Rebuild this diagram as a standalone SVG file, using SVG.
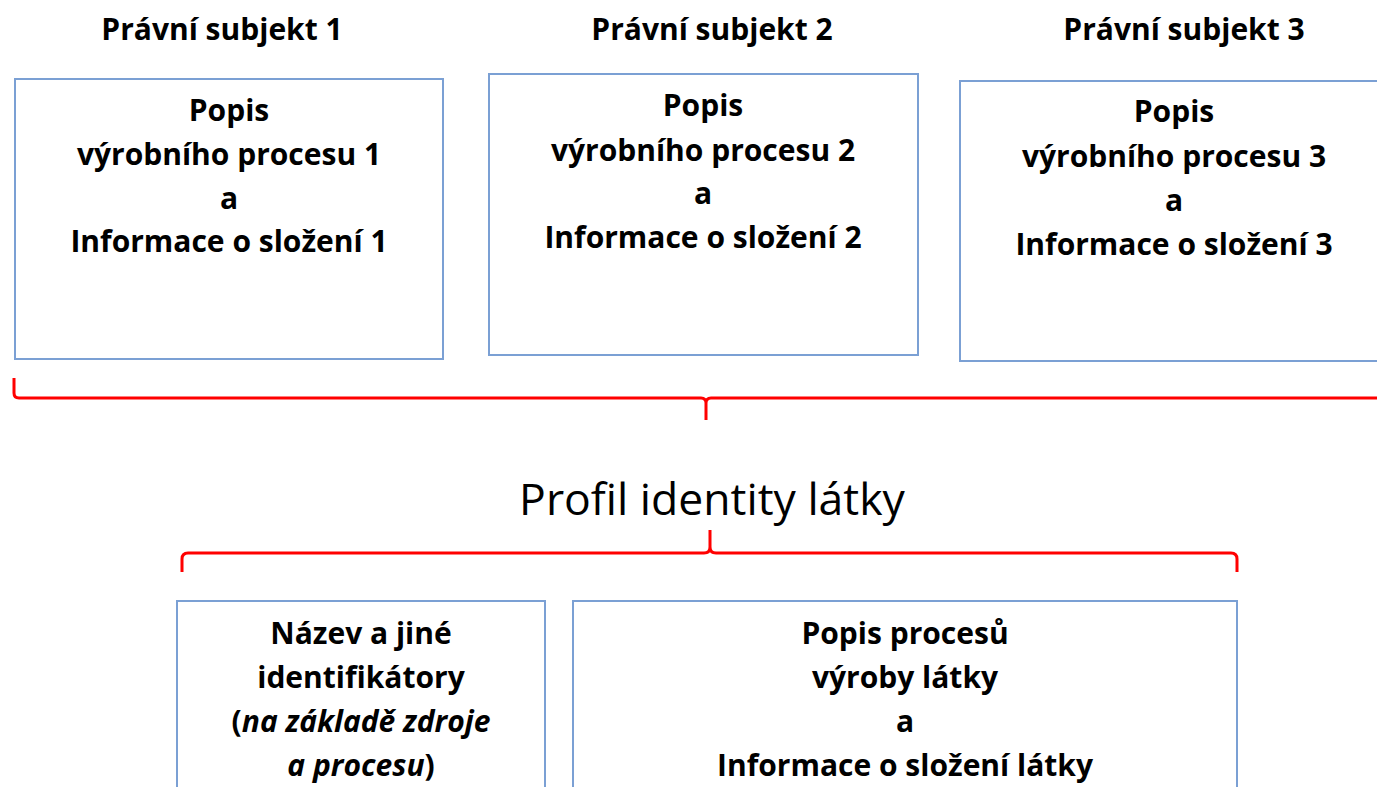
<svg xmlns="http://www.w3.org/2000/svg" width="1377" height="787" viewBox="0 0 1377 787">
<style>
.box{fill:#fff;stroke:#7ba0d4;stroke-width:2}
.t{font-family:"Open Sans",Lato,sans-serif;font-weight:bold;font-size:30px;fill:#000;text-anchor:middle}
.h{font-family:"Open Sans",Lato,sans-serif;font-weight:bold;font-size:30px;fill:#000;text-anchor:middle}
.title{font-family:"Open Sans",Lato,sans-serif;font-size:44.5px;fill:#000;text-anchor:middle}
.br{fill:none;stroke:#ff0000;stroke-width:3;stroke-linejoin:round}
</style>
<rect width="1377" height="787" fill="#fff"/>
<g id="header1"><text class="h" x="222" y="40">Právní subjekt 1</text></g>
<g id="header2"><text class="h" x="712" y="40">Právní subjekt 2</text></g>
<g id="header3"><text class="h" x="1184" y="40">Právní subjekt 3</text></g>
<g id="box1">
<rect class="box" x="15" y="79" width="428" height="280"/>
<text class="t" x="229" y="121">Popis</text>
<text class="t" x="229" y="165">výrobního procesu 1</text>
<text class="t" x="229" y="209">a</text>
<text class="t" x="229" y="252">Informace o složení 1</text>
</g>
<g id="box2">
<rect class="box" x="489" y="74" width="429" height="281"/>
<text class="t" x="703" y="116">Popis</text>
<text class="t" x="703" y="161">výrobního procesu 2</text>
<text class="t" x="703" y="204">a</text>
<text class="t" x="703" y="248">Informace o složení 2</text>
</g>
<g id="box3">
<rect class="box" x="960" y="81" width="430" height="280"/>
<text class="t" x="1174" y="122">Popis</text>
<text class="t" x="1174" y="167">výrobního procesu 3</text>
<text class="t" x="1174" y="211">a</text>
<text class="t" x="1174" y="255">Informace o složení 3</text>
</g>
<g id="title"><text class="title" x="712" y="515">Profil identity látky</text></g>
<g id="box4">
<rect class="box" x="177" y="601" width="368" height="200"/>
<text class="t" x="361" y="644">Název a jiné</text>
<text class="t" x="361" y="688">identifikátory</text>
<text class="t" x="361" y="732">(<tspan font-style="italic">na základě zdroje</tspan></text>
<text class="t" x="361" y="776"><tspan font-style="italic">a procesu</tspan>)</text>
</g>
<g id="box5">
<rect class="box" x="573" y="601" width="664" height="200"/>
<text class="t" x="905" y="644">Popis procesů</text>
<text class="t" x="905" y="688">výroby látky</text>
<text class="t" x="905" y="732">a</text>
<text class="t" x="905" y="776">Informace o složení látky</text>
</g>
<g id="connectors">
<path class="br" d="M14,378 L14,393 Q14,398 19,398 L701,398 Q706,398 706,403 L706,420 M706,403 Q706,398 711,398 L1380,398"/>
<path class="br" d="M182,572 L182,559 Q182,553 188,553 L704,553 Q710,553 710,547 L710,530 M710,547 Q710,553 716,553 L1231,553 Q1237,553 1237,559 L1237,572"/>
</g>
</svg>
